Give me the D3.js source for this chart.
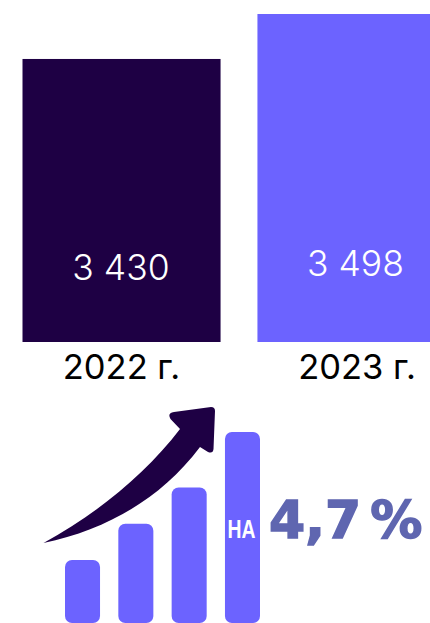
<!DOCTYPE html>
<html>
<head>
<meta charset="utf-8">
<script src="https://cdn.jsdelivr.net/npm/d3@7"></script>
<style>
html,body{margin:0;padding:0;background:#fff;overflow:hidden;}
svg{display:block;}
</style>
</head>
<body>
<div id="chart"></div>
<script>
var years=["2022 г.","2023 г."];
var values=[3430,3498];
var valueLabels=["3 430","3 498"];
var barColors=["#1e0044","#6c63ff"];
var iconSteps=["a","b","c","d"];
var iconLevels=[33,52,71,100];
var growthLabel="4,7 %";
var growthPrefix="НА";

var width=430,height=623;
var svg=d3.select("#chart").append("svg")
	.attr("width",width).attr("height",height);

//======================main bars===========================
// the value axis is cut off near 3000, the 2023 bar runs past the right edge
var x=d3.scaleBand().domain(years).range([22.5,455.5]).paddingInner(0.157).paddingOuter(0);
var y=d3.scaleLinear().domain([3002,3498]).range([342,14]);

svg.append("g").selectAll("rect").data(years)
	.enter().append("rect")
	.attr("x",function(d){return x(d);})
	.attr("y",function(d,i){return y(values[i]);})
	.attr("width",x.bandwidth())
	.attr("height",function(d,i){return y.range()[0]-y(values[i]);})
	.attr("fill",function(d,i){return barColors[i];});

var labelFont="Inter, 'Open Sans', sans-serif";
var valueLabelX=[121,355.5],valueLabelY=[280,276];
svg.append("g").selectAll("text").data(valueLabels)
	.enter().append("text")
	.attr("x",function(d,i){return valueLabelX[i];})
	.attr("y",function(d,i){return valueLabelY[i];})
	.attr("text-anchor","middle")
	.attr("font-family",labelFont).attr("font-size",35.5).attr("font-weight",300)
	.attr("fill","#ffffff")
	.text(function(d){return d;});

var yearLabelX=[121.5,357];
svg.append("g").selectAll("text").data(years)
	.enter().append("text")
	.attr("x",function(d,i){return yearLabelX[i];})
	.attr("y",379)
	.attr("text-anchor","middle")
	.attr("font-family",labelFont).attr("font-size",34.5).attr("font-weight",400)
	.attr("fill","#000000")
	.text(function(d){return d;});

//======================growth icon===========================
var ix=d3.scaleBand().domain(iconSteps).range([65,260]).paddingInner(0.343).paddingOuter(0);
var iy=d3.scaleLinear().domain([0,100]).range([623,432]);

svg.append("g").selectAll("rect").data(iconSteps)
	.enter().append("rect")
	.attr("x",function(d){return ix(d);})
	.attr("y",function(d,i){return iy(iconLevels[i]);})
	.attr("width",ix.bandwidth())
	.attr("height",function(d,i){return iy(0)-iy(iconLevels[i]);})
	.attr("rx",7).attr("ry",7)
	.attr("fill","#6c63ff");

// arrow over the icon
svg.append("path")
	.attr("d","M43.5,543 C95,515 145,475 180,429 L170.5,419 Q167,413 174,412 L211,407 Q215,407 215,411 L213.5,449 Q213,454 208,452 L200,447 C160,500 105,530 43.5,543 Z")
	.attr("fill","#1e0044");

// no narrow face installed, so squeeze the label into the bar
svg.append("text")
	.attr("x",ix("d")+ix.bandwidth()/2-1).attr("y",538)
	.attr("text-anchor","middle")
	.attr("textLength",28).attr("lengthAdjust","spacingAndGlyphs")
	.attr("font-family","'Liberation Sans',sans-serif")
	.attr("font-size",25).attr("font-weight",700)
	.attr("fill","#ffffff")
	.text(growthPrefix);

svg.append("text")
	.attr("x",269).attr("y",538)
	.attr("font-family","'DejaVu Sans',sans-serif")
	.attr("font-size",52).attr("font-weight",700)
	.attr("word-spacing",-9)
	.attr("stroke","#5f66b0").attr("stroke-width",1.5)
	.attr("fill","#5f66b0")
	.text(growthLabel);
</script>
</body>
</html>
